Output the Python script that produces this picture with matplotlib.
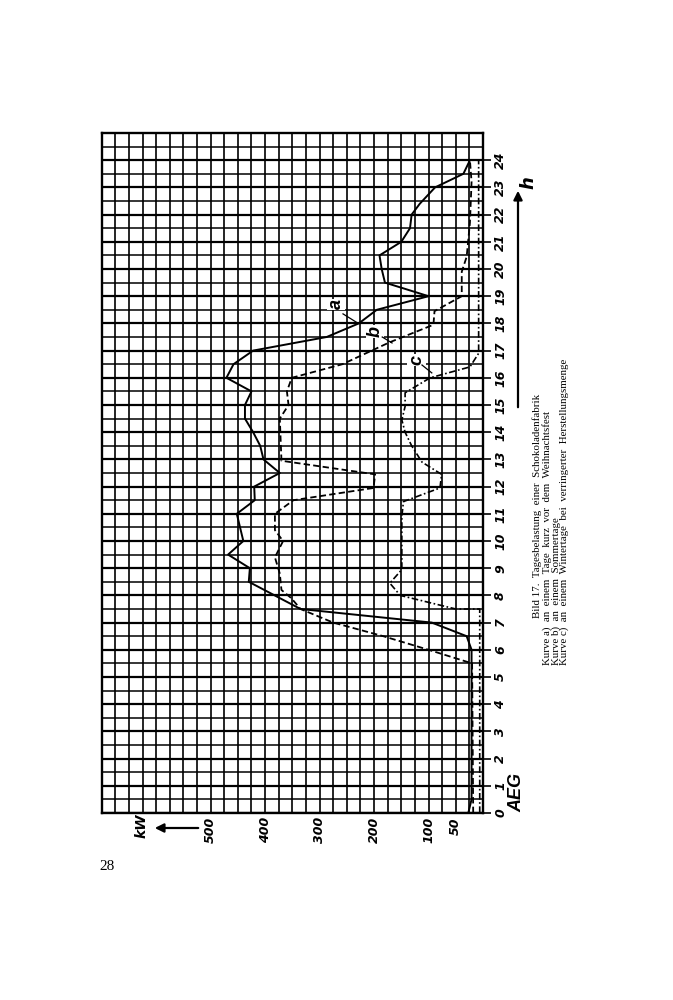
import matplotlib.pyplot as plt
from matplotlib.ticker import MultipleLocator

# Tagesbelastung einer Schokoladenfabrik (Bild 17), page is turned 90 deg:
# hours run upwards, kW grows to the left.

# curve a: shortly before Christmas
hours_a = [0, 0.5, 6, 6.5, 7, 7.5, 8.5, 9, 9.5, 10, 11, 11.5, 12, 12.5, 13,
           13.5, 14, 14.5, 15, 15.5, 16, 16.5, 17, 17.5, 18, 18.5, 19, 19.5,
           20, 20.5, 21, 21.5, 22, 22.4, 23, 23.5, 24]
kw_a = [27, 21, 21, 30, 94, 335, 430, 428, 468, 440, 452, 419, 420, 373, 403,
        409, 422, 437, 437, 425, 471, 458, 422, 287, 228, 195, 100, 180,
        186, 190, 150, 134, 131, 116, 88, 36, 24]

# curve b: summer day
hours_b = [0, 5.5, 6, 6.5, 7, 7.5, 7.9, 8.2, 8.8, 9.4, 10, 10.4, 11, 11.5,
           11.95, 12.45, 12.95, 14.5, 15, 15.5, 16, 16.5, 17.3, 17.95, 18.45,
           19, 19.9, 20.45, 21.7, 23.2, 24]
kw_b = [18, 20, 100, 183, 275, 335, 352, 370, 373, 382, 367, 382, 382, 348,
        201, 198, 370, 373, 357, 360, 351, 258, 172, 91, 89,
        39, 39, 30, 24, 21, 24]

# curve c: winter day, reduced production
hours_c = [0, 7.5, 7.5, 8, 8.45, 8.95, 10.9, 11.45, 11.95, 12.45, 12.9, 13.5,
           14, 14.45, 14.95, 15.45, 16, 16.4, 16.9, 24, 24]
kw_c = [6, 6, 50, 152, 171, 149, 149, 146, 79, 76, 112, 131,
        143, 149, 143, 143, 97, 24, 8, 8, 24]

hour_ticks = list(range(0, 25))
kw_ticks = [50, 100, 200, 300, 400, 500]

caption = "Bild 17.  Tagesbelastung  einer  Schokoladenfabrik"
caption_lines = [
    "Kurve a)  an  einem  Tage  kurz  vor  dem  Weihnachtsfest",
    "Kurve b)  an  einem  Sommertage",
    "Kurve c)  an  einem  Wintertage  bei  verringerter  Herstellungsmenge",
]

W, H = 673, 1000
narrow = ['Liberation Sans Narrow', 'DejaVu Sans']
serif = ['Liberation Serif', 'DejaVu Serif']


def fx(px):
    return px / W


def fy(py):
    return 1 - py / H


fig = plt.figure(figsize=(W / 100, H / 100), dpi=100)
ax = fig.add_axes([fx(101.7), fy(813), fx(483) - fx(101.7), fy(133) - fy(813)])
ax.set_xlim(700, 0)
ax.set_ylim(0, 25)

ax.xaxis.set_minor_locator(MultipleLocator(25))
ax.yaxis.set_minor_locator(MultipleLocator(0.5))
ax.set_xticks(kw_ticks)
ax.set_yticks(hour_ticks)
ax.xaxis.grid(True, which='both', color='black', lw=1.2)
ax.yaxis.grid(True, which='major', color='black', lw=1.6)
ax.yaxis.grid(True, which='minor', color='black', lw=1.1)
ax.set_axisbelow(True)
for s in ax.spines.values():
    s.set_linewidth(1.7)

ax.yaxis.set_ticks_position('right')
ax.tick_params(axis='y', which='major', length=6, width=1.2, pad=2,
               direction='out')
ax.tick_params(axis='y', which='minor', length=0)
ax.tick_params(axis='x', which='both', length=0, pad=3)
ax.set_yticklabels([str(h) for h in hour_ticks], rotation=90, va='center',
                   family=narrow, fontsize=9, fontweight='bold',
                   fontstyle='italic')
ax.set_xticklabels([str(k) for k in kw_ticks], rotation=90, ha='center',
                   family=narrow, fontsize=9, fontweight='bold',
                   fontstyle='italic')

ax.plot(kw_a, hours_a, color='black', lw=1.4, zorder=3)
ax.plot(kw_b, hours_b, color='black', lw=1.3, dashes=(3.5, 1.8), zorder=3)
ax.plot(kw_c, hours_c, color='black', lw=1.2, dashes=(4, 1.5, 1, 1.5),
        zorder=3)

# curve letters with leader lines
labels = [("a", 270, 18.7, (257, 18.35), (229, 18.0)),
          ("b", 198, 17.7, (185, 17.5), (167, 17.28)),
          ("c", 122, 16.65, (112, 16.47), (94, 16.18))]
for name, lx, ly, p0, p1 in labels:
    ax.text(lx, ly, name, rotation=90, ha='center', va='center',
            fontsize=13, fontweight='bold', fontstyle='italic',
            family=['Liberation Sans', 'DejaVu Sans'], zorder=4,
            bbox=dict(fc='white', ec='none', pad=0.5))
    ax.plot([p0[0], p1[0]], [p0[1], p1[1]], color='black', lw=0.9, zorder=4)

# axis names and arrows
fig.text(fx(142), fy(826), "kW", rotation=90, ha='center', va='center',
         fontsize=10, fontweight='bold', fontstyle='italic', family=narrow)
ax.annotate('', xy=(fx(152), fy(828)), xytext=(fx(201), fy(828)),
            xycoords='figure fraction',
            arrowprops=dict(arrowstyle='-|>', color='black', lw=1.6,
                            mutation_scale=13))
fig.text(fx(528), fy(183), "h", rotation=90, ha='center', va='center',
         fontsize=13, fontweight='bold', fontstyle='italic', family=narrow)
ax.annotate('', xy=(fx(518), fy(188)), xytext=(fx(518), fy(410)),
            xycoords='figure fraction',
            arrowprops=dict(arrowstyle='-|>', color='black', lw=1.6,
                            mutation_scale=13))
fig.text(fx(517), fy(793), "AEG", rotation=90, ha='center', va='center',
         fontsize=13, fontweight='bold', fontstyle='italic',
         family=['Liberation Sans', 'DejaVu Sans'])

# caption
fig.text(fx(537), fy(506), caption, rotation=90, rotation_mode='anchor',
         ha='center', va='center', fontsize=7.8, family=serif)
for i, line in enumerate(caption_lines):
    fig.text(fx(547.5 + 8.5 * i), fy(665), line, rotation=90,
             rotation_mode='anchor', ha='left', va='center', fontsize=7.8,
             family=serif)

fig.text(fx(107), fy(866), "28", ha='center', va='center', fontsize=11,
         family=serif)

fig.savefig("out.png", dpi=100)
